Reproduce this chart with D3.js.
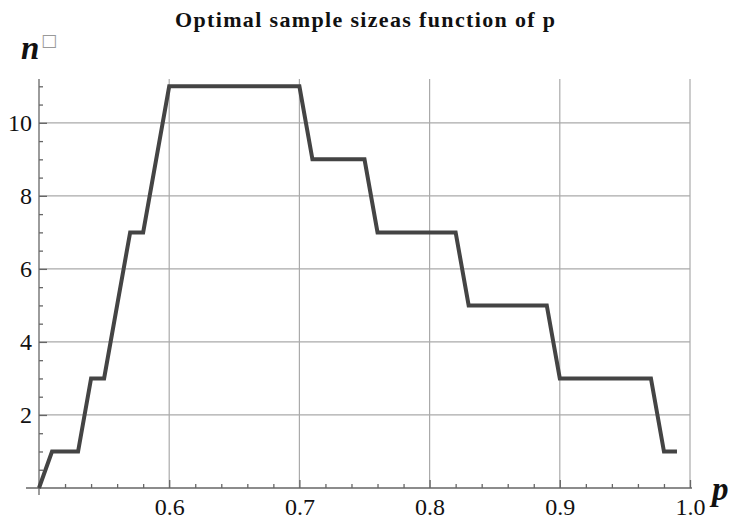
<!DOCTYPE html>
<html>
<head>
<meta charset="utf-8">
<script src="https://cdn.jsdelivr.net/npm/d3@7"></script>
<style>
body { margin: 0; background: #fff; }
svg { display: block; }
svg text { font-family: "Liberation Serif", "Times New Roman", Times, serif !important; }
svg text.box { font-family: "DejaVu Sans", sans-serif !important; }
</style>
</head>
<body>
<div id="chart"></div>
<script>
var W = 730, H = 527
var margin = { top: 79, right: 40, bottom: 39, left: 39 }
var width = W - margin.left - margin.right
var height = H - margin.top - margin.bottom

// optimal n for each p
var pValues = [0.50, 0.51, 0.52, 0.53, 0.54, 0.55, 0.56, 0.57, 0.58, 0.59,
               0.60, 0.61, 0.62, 0.63, 0.64, 0.65, 0.66, 0.67, 0.68, 0.69,
               0.70, 0.71, 0.72, 0.73, 0.74, 0.75, 0.76, 0.77, 0.78, 0.79,
               0.80, 0.81, 0.82, 0.83, 0.84, 0.85, 0.86, 0.87, 0.88, 0.89,
               0.90, 0.91, 0.92, 0.93, 0.94, 0.95, 0.96, 0.97, 0.98, 0.99]
var nValues = [0, 1, 1, 1, 3, 3, 5, 7, 7, 9,
               11, 11, 11, 11, 11, 11, 11, 11, 11, 11,
               11, 9, 9, 9, 9, 9, 7, 7, 7, 7,
               7, 7, 7, 5, 5, 5, 5, 5, 5, 5,
               3, 3, 3, 3, 3, 3, 3, 3, 1, 1]
var xTicks = [0.6, 0.7, 0.8, 0.9, 1.0]
var yTicks = [2, 4, 6, 8, 10]

var data = pValues.map(function(p, i) { return { p: p, n: nValues[i] } })

var x = d3.scaleLinear().domain([0.5, 1.0]).range([0, width])
var y = d3.scaleLinear().domain([0, 11.2]).range([height, 0])

var svg = d3.select("#chart").append("svg")
    .attr("width", W).attr("height", H)

var g = svg.append("g")
    .attr("transform", "translate(" + margin.left + "," + margin.top + ")")

// grid
g.selectAll(".vgrid").data(xTicks).enter().append("line")
    .attr("x1", function(d) { return x(d) }).attr("x2", function(d) { return x(d) })
    .attr("y1", 0).attr("y2", height)
    .attr("stroke", "#aaa").attr("stroke-width", 1.2)
g.selectAll(".hgrid").data(yTicks).enter().append("line")
    .attr("x1", 0).attr("x2", width)
    .attr("y1", function(d) { return y(d) }).attr("y2", function(d) { return y(d) })
    .attr("stroke", "#aaa").attr("stroke-width", 1.2)

// x axis, ticks pointing up
var xMinor = d3.range(0.52, 1.0, 0.02).filter(function(d) { return Math.abs(d * 10 - Math.round(d * 10)) > 1e-6 })
var xa = g.append("g").attr("transform", "translate(0," + height + ")")
xa.call(d3.axisBottom(x).tickValues(xMinor).tickSize(-4).tickFormat(""))
xa.append("g").call(d3.axisBottom(x).tickValues(xTicks).tickSize(-8).tickFormat(d3.format(".1f")))
xa.selectAll(".domain").remove()
xa.append("line").attr("x1", -13).attr("x2", width + 2).attr("stroke", "#666").attr("stroke-width", 1.3)
xa.selectAll("line").attr("stroke", "#666").attr("stroke-width", 1.3)
xa.selectAll("text").attr("y", 27).attr("dy", 0)
    .attr("font-size", 24).attr("fill", "#111")

// y axis, ticks pointing right
var yMinor = d3.range(0.5, 11.2, 0.5).filter(function(d) { return d % 2 != 0 })
var ya = g.append("g")
ya.call(d3.axisLeft(y).tickValues(yMinor).tickSize(-4).tickFormat(""))
ya.append("g").call(d3.axisLeft(y).tickValues(yTicks).tickSize(-8).tickFormat(d3.format("d")))
ya.selectAll(".domain").remove()
ya.append("line").attr("y1", 0).attr("y2", height + 7).attr("stroke", "#666").attr("stroke-width", 1.3)
ya.selectAll("line").attr("stroke", "#666").attr("stroke-width", 1.3)
ya.selectAll("text").attr("x", -7).attr("dy", "0.33em")
    .attr("font-size", 24).attr("fill", "#111")

// curve
var line = d3.line()
    .x(function(d) { return x(d.p) })
    .y(function(d) { return y(d.n) })
g.append("path").datum(data)
    .attr("d", line)
    .attr("fill", "none")
    .attr("stroke", "#444")
    .attr("stroke-width", 4)
    .attr("stroke-linejoin", "miter")

// title
svg.append("text")
    .attr("x", 175).attr("y", 27)
    .attr("textLength", 380).attr("lengthAdjust", "spacing")
    .attr("font-size", 22).attr("font-weight", "bold")
    .attr("fill", "#111")
    .text("Optimal sample sizeas function of p")

// axis labels
svg.append("text").attr("x", 21).attr("y", 59)
    .attr("font-size", 33).attr("font-weight", "bold").attr("font-style", "italic").attr("fill", "#111")
    .text("n")
svg.append("text").attr("class", "box").attr("x", 41).attr("y", 46)
    .attr("font-size", 17).attr("fill", "#999")
    .text("\u25A1")

svg.append("text").attr("x", 712).attr("y", 500)
    .attr("font-size", 33).attr("font-weight", "bold").attr("font-style", "italic").attr("fill", "#111")
    .text("p")
</script>
</body>
</html>
